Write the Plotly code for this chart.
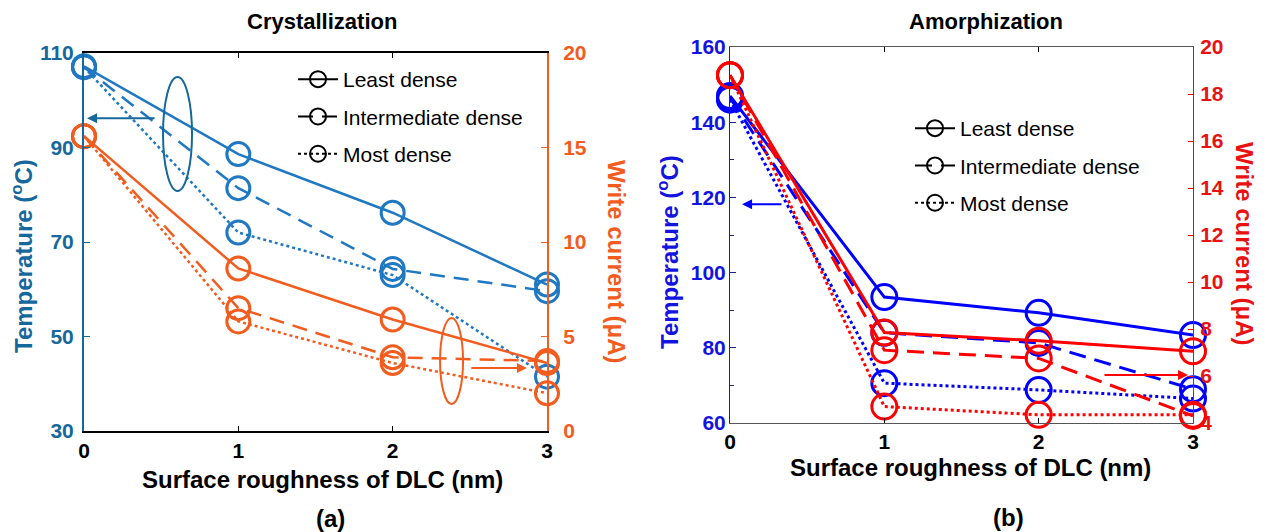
import plotly.graph_objects as go

# ---------------- data ----------------
roughness = [0, 1, 2, 3]
x_ticks = [0, 1, 2, 3]
series_names = ["Least dense", "Intermediate dense", "Most dense"]

# (a) Crystallization
temp_a_least = [107.2, 88.6, 76.2, 61.0]
temp_a_inter = [107.0, 81.4, 64.3, 59.6]
temp_a_most = [107.0, 72.0, 63.0, 41.5]
curr_a_least = [15.6, 8.6, 5.9, 3.6]
curr_a_inter = [15.6, 6.5, 3.9, 3.7]
curr_a_most = [15.6, 5.8, 3.6, 2.0]
temp_a_ticks = [30, 50, 70, 90, 110]
curr_a_ticks = [0, 5, 10, 15, 20]

# (b) Amorphization
temp_b_least = [147.0, 93.5, 89.3, 83.4]
temp_b_inter = [146.5, 84.0, 81.3, 69.0]
temp_b_most = [146.0, 70.6, 68.8, 66.5]
curr_b_least = [18.8, 7.85, 7.5, 7.05]
curr_b_inter = [18.8, 7.1, 6.75, 4.3]
curr_b_most = [18.8, 4.7, 4.35, 4.35]
temp_b_ticks = [60, 80, 100, 120, 140, 160]
curr_b_ticks = [4, 6, 8, 10, 12, 14, 16, 18, 20]

# ---------------- layout helpers (page has an 8px body margin) ----------------
W, H, OFF = 1261, 524, 8
def fx(px):
    return (px - OFF) / W
def fy(py):
    return 1 - (py - OFF) / H

# ---------------- styles ----------------
FONT = "Liberation Sans"
BLUE_A = "#1f78c1"
BLUE_A_AX = "#16689c"
ORANGE_A = "#f25c1e"
BLUE_B = "#0000ff"
BLUE_B_AX = "#1414e0"
RED_B = "#ff0000"
RED_B_AX = "#e81212"
dash_a = ["solid", "15px,9px", "3px,3px"]
dash_b = ["solid", "17px,9px", "3px,3px"]

fig = go.Figure()

def add_series(xs, ys, color, dash, xa, ya, width, msize):
    fig.add_trace(go.Scatter(
        x=xs, y=ys, xaxis=xa, yaxis=ya, mode="lines+markers",
        line=dict(color=color, width=width, dash=dash),
        marker=dict(symbol="circle-open", size=msize, color=color, line=dict(width=3, color=color)),
        showlegend=False, cliponaxis=False, hoverinfo="skip"))

for ys, d in zip([temp_a_least, temp_a_inter, temp_a_most], dash_a):
    add_series(roughness, ys, BLUE_A, d, "x", "y", 2.5, 23)
for ys, d in zip([curr_a_least, curr_a_inter, curr_a_most], dash_a):
    add_series(roughness, ys, ORANGE_A, d, "x", "y2", 2.5, 23)
for ys, d in zip([temp_b_least, temp_b_inter, temp_b_most], dash_b):
    add_series(roughness, ys, BLUE_B, d, "x2", "y3", 3, 25)
for ys, d in zip([curr_b_least, curr_b_inter, curr_b_most], dash_b):
    add_series(roughness, ys, RED_B, d, "x2", "y4", 3, 25)

# legend entries (black samples)
for lg, dashes, xa, ya in [("legend", dash_a, "x", "y"), ("legend2", dash_b, "x2", "y3")]:
    for i, (nm, d) in enumerate(zip(series_names, dashes)):
        fig.add_trace(go.Scatter(
            x=[None], y=[None], xaxis=xa, yaxis=ya, name=nm, legend=lg,
            legendgroup=lg + str(i), mode="lines+markers",
            line=dict(color="black", width=2, dash=d),
            marker=dict(symbol="circle-open", size=16, color="black", line=dict(width=2, color="black"))))

tick_bold = lambda c, s=21: dict(family=FONT, size=s, color=c, weight="bold")

xcommon = dict(range=[0, 3], tickvals=x_ticks, ticks="inside", ticklen=5, showline=True,
               linecolor="black", linewidth=1.5, mirror="ticks", showgrid=False, zeroline=False,
               tickfont=tick_bold("black"), tickcolor="black", automargin=False)

fig.update_layout(
    width=W, height=H, margin=dict(l=0, r=0, t=0, b=0, autoexpand=False),
    plot_bgcolor="white", paper_bgcolor="white",
    font=dict(family=FONT),
    xaxis=dict(domain=[fx(84), fx(547)], anchor="y", **xcommon),
    yaxis=dict(domain=[fy(431), fy(53)], anchor="x", range=[30, 110], tickvals=temp_a_ticks,
               ticks="inside", ticklen=6, showline=True, linecolor=BLUE_A_AX, linewidth=2,
               tickcolor=BLUE_A_AX, tickfont=tick_bold(BLUE_A_AX), showgrid=False, zeroline=False,
               ticklabelstandoff=4, automargin=False),
    yaxis2=dict(overlaying="y", side="right", anchor="x", range=[0, 20], tickvals=curr_a_ticks,
                ticks="inside", ticklen=6, showline=True, linecolor=ORANGE_A, linewidth=2,
                tickcolor=ORANGE_A, tickfont=tick_bold(ORANGE_A), showgrid=False, zeroline=False,
                ticklabelstandoff=10, automargin=False),
    xaxis2=dict(domain=[fx(730), fx(1193)], anchor="y3", **{**xcommon, "linecolor": "#555555", "linewidth": 1}),
    yaxis3=dict(domain=[fy(423), fy(47)], anchor="x2", range=[60, 160], tickvals=temp_b_ticks,
                ticks="inside", ticklen=6, showline=True, linecolor="#22227a", linewidth=1,
                tickcolor="#22227a", tickfont=tick_bold(BLUE_B_AX), showgrid=False, zeroline=False,
                minor=dict(dtick=10, ticks="inside", ticklen=4, tickcolor="#22227a"),
                ticklabelstandoff=-1, automargin=False),
    yaxis4=dict(overlaying="y3", side="right", anchor="x2", range=[4, 20], tickvals=curr_b_ticks,
                ticks="inside", ticklen=5, showline=True, linecolor=RED_B, linewidth=1,
                tickcolor=RED_B, tickfont=tick_bold(RED_B_AX), showgrid=False, zeroline=False,
                ticklabelstandoff=2, automargin=False),
    legend=dict(x=fx(293), y=fy(59), xanchor="left", yanchor="top", bgcolor="rgba(0,0,0,0)",
                font=dict(family=FONT, size=21, color="black"), tracegroupgap=7, itemwidth=40),
    legend2=dict(x=fx(910), y=fy(108), xanchor="left", yanchor="top", bgcolor="rgba(0,0,0,0)",
                 font=dict(family=FONT, size=21, color="black"), tracegroupgap=7, itemwidth=40),
)

# ellipses marking which axis each group belongs to
fig.add_shape(type="circle", xref="x", yref="y", x0=0.512, x1=0.70, y0=80.8, y1=104.9,
              line=dict(color=BLUE_A_AX, width=2))
fig.add_shape(type="circle", xref="x", yref="y2", x0=2.307, x1=2.456, y0=1.43, y1=5.98,
              line=dict(color=ORANGE_A, width=2))

# arrows
def arrow(x, y, ax, ay, xr, yr, color):
    fig.add_annotation(x=x, y=y, ax=ax, ay=ay, xref=xr, yref=yr, axref=xr, ayref=yr,
                       text="", showarrow=True, arrowhead=2, arrowsize=1, arrowwidth=2,
                       arrowcolor=color)

arrow(0.02, 96.2, 0.467, 96.2, "x", "y", BLUE_A_AX)
arrow(2.87, 3.33, 2.50, 3.33, "x", "y2", ORANGE_A)
arrow(0.078, 118.2, 0.343, 118.2, "x2", "y3", BLUE_B)
arrow(2.968, 6.04, 2.417, 6.04, "x2", "y4", RED_B)

def label(text, px, py, size=24, color="black", angle=0):
    fig.add_annotation(text=text, x=fx(px), y=fy(py), xref="paper", yref="paper", showarrow=False,
                       xanchor="center", yanchor="middle", textangle=angle,
                       font=dict(family=FONT, size=size, color=color, weight="bold"))

label("Crystallization", 322, 22, 22)
label("Amorphization", 986, 22, 22)
label("Surface roughness of DLC (nm)", 322, 479, 24)
label("Surface roughness of DLC (nm)", 971, 467, 24)
label("(a)", 330, 518, 24)
label("(b)", 1008, 517, 24)
label("Temperature (<sup>o</sup>C)", 22, 256, 24, BLUE_A_AX, -90)
label("Write current (\u03bcA)", 617, 262, 24, ORANGE_A, 90)
label("Temperature (<sup>o</sup>C)", 668, 252, 24, BLUE_B_AX, -90)
label("Write current (\u03bcA)", 1245, 244, 24, RED_B_AX, 90)

fig.write_html("out.html")
